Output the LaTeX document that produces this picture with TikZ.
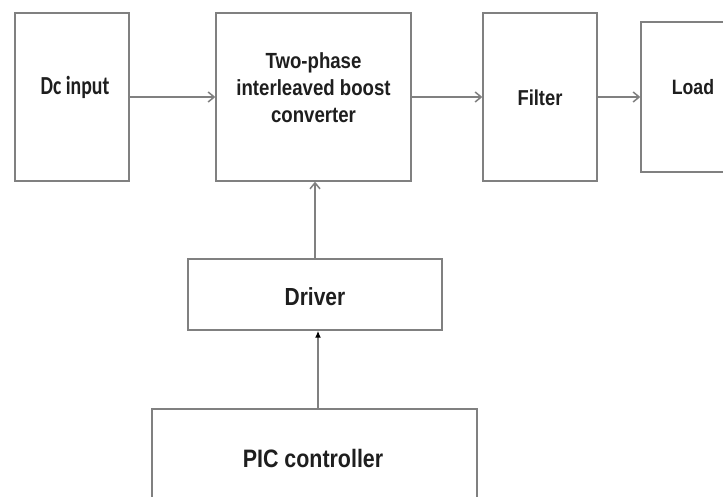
\documentclass[tikz,border=0pt]{standalone}
\usepackage{fontspec}
\setmainfont{Liberation Sans}
\newfontfamily\narrowfont[FakeStretch=0.85]{Liberation Sans}
\newfontfamily\calibrifont[FakeStretch=0.76]{Carlito}
\usepackage{tikz}
\usetikzlibrary{arrows.meta}
\definecolor{linec}{RGB}{128,128,128}
\definecolor{textc}{RGB}{30,30,30}

\tikzset{
  blk/.style={draw=linec,line width=1.4pt,fill=white,inner sep=0pt},
  lbl/.style={text=textc,align=center,inner sep=0pt},
  flow/.style={draw=linec,line width=1.4pt,-{Straight Barb[length=6pt,width=10pt,line width=1.5pt]}},
  ctrl/.style={draw=linec,line width=1.4pt,-{Latex[length=7pt,width=6pt,black]}}
}

\begin{document}
\begin{tikzpicture}[x=1pt,y=-1pt]
  \useasboundingbox (0,0) rectangle (723,497);
  \clip (0,0) rectangle (723,497);
  \fill[white] (0,0) rectangle (723,497);
  % ---- power stage ----
  \node[blk,minimum width=114pt,minimum height=168pt] (dc) at (72,97) {};
  \node[lbl,font=\calibrifont\bfseries\fontsize{26}{28}\selectfont] (dctxt) at (75,87) {Dc input};
  \node[blk,minimum width=195pt,minimum height=168pt] (conv) at (313.5,97) {};
  \node[lbl,font=\narrowfont\bfseries\fontsize{21.9}{27}\selectfont] (convtxt) at (313.5,88)
      {Two-phase\\interleaved boost\\converter};
  \node[blk,minimum width=114pt,minimum height=168pt] (filt) at (540,97) {};
  \node[lbl,font=\narrowfont\bfseries\fontsize{21.6}{24}\selectfont] (filttxt) at (540,98) {Filter};
  \node[blk,minimum width=100pt,minimum height=150pt] (load) at (691,97) {};
  \node[lbl,font=\narrowfont\bfseries\fontsize{20.8}{24}\selectfont] (loadtxt) at (693,87) {Load};
  % ---- control side ----
  \node[blk,minimum width=254pt,minimum height=71pt] (drv) at (315,294.5) {};
  \node[lbl,font=\narrowfont\bfseries\fontsize{24.7}{28}\selectfont] (drvtxt) at (315,297) {Driver};
  \node[blk,minimum width=325pt,minimum height=120pt] (pic) at (314.5,469) {};
  \node[lbl,font=\narrowfont\bfseries\fontsize{25.2}{28}\selectfont] (pictxt) at (313,458) {PIC controller};
  % ---- connectors ----
  \draw[flow] (dc.east |- 0,97) -- (conv.west |- 0,97);
  \draw[flow] (conv.east |- 0,97) -- (filt.west |- 0,97);
  \draw[flow] (filt.east |- 0,97) -- (load.west |- 0,97);
  \draw[flow] (drv.north) -- (drv.north |- conv.south);
  \draw[ctrl] (pic.north -| 318,0) -- (drv.south -| 318,0);
\end{tikzpicture}
\end{document}
